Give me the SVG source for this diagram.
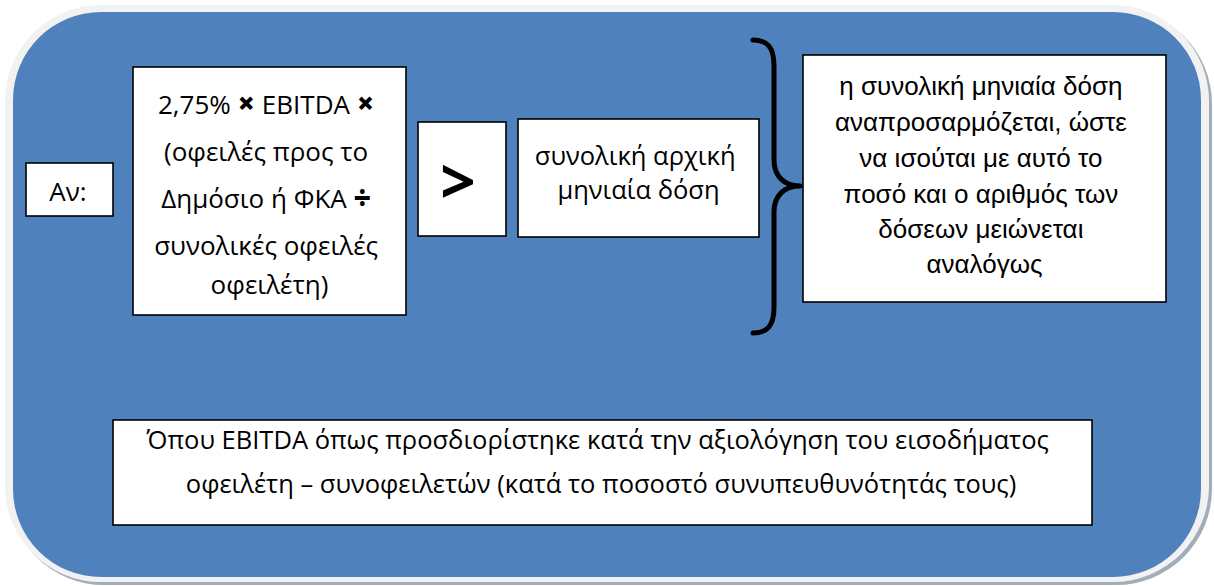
<svg xmlns="http://www.w3.org/2000/svg" width="1214" height="586" viewBox="0 0 1214 586">
<style>
.box{fill:#ffffff;stroke:#000000;stroke-width:1.6}
.cal{font-family:"Open Sans","Noto Sans","DejaVu Sans",sans-serif;fill:#000000;text-anchor:middle}
.ari{font-family:"Liberation Sans",Arial,sans-serif;fill:#000000;text-anchor:middle;font-size:26px}
.b{font-weight:700}
.op{font-weight:800;font-size:30px}
</style>
<g id="background">
<rect x="8" y="8" width="1204" height="577" rx="96" fill="#A3ACB9"/>
<rect x="5" y="5" width="1204" height="577" rx="96" fill="#F2F2F2"/>
<rect x="13" y="12" width="1188" height="565" rx="88" fill="#4F81BD"/>
</g>
<g id="node-if">
<rect class="box" x="26" y="163" width="87" height="53"/>
<text class="cal" x="68" y="201" font-size="26">Αν:</text>
</g>
<g id="node-formula">
<rect class="box" x="133" y="67" width="273" height="248"/>
<text class="cal" font-size="26">
<tspan x="269.5" y="114">2,75% <tspan class="op">×</tspan> EBITDA <tspan class="op">×</tspan></tspan>
<tspan x="269.5" y="161">(οφειλές προς το</tspan>
<tspan x="269.5" y="208">Δημόσιο ή ΦΚΑ <tspan class="op">÷</tspan></tspan>
<tspan x="269.5" y="255">συνολικές οφειλές</tspan>
<tspan x="269.5" y="294">οφειλέτη)</tspan>
</text>
</g>
<g id="node-gt">
<rect class="box" x="418" y="122" width="88" height="114"/>
<text class="cal b" x="458" y="204" font-size="62">&gt;</text>
</g>
<g id="node-initial">
<rect class="box" x="518" y="119" width="241" height="118"/>
<text class="cal" font-size="25.5">
<tspan x="638.5" y="165">συνολική αρχική</tspan>
<tspan x="638.5" y="199">μηνιαία δόση</tspan>
</text>
</g>
<g id="connectors">
<path d="M753,40 C768,40 774,48 774,66 L774,160 C774,177 785,186 800,186 C785,186 774,195 774,212 L774,307 C774,325 768,333 753,333" fill="none" stroke="#000000" stroke-width="5" stroke-linecap="round" stroke-linejoin="round"/>
</g>
<g id="node-result">
<rect class="box" x="803" y="55" width="363" height="247"/>
<text class="ari">
<tspan x="984.5" y="95">η συνολική μηνιαία δόση</tspan>
<tspan x="984.5" y="131">αναπροσαρμόζεται, ώστε</tspan>
<tspan x="984.5" y="167">να ισούται με αυτό το</tspan>
<tspan x="984.5" y="203">ποσό και ο αριθμός των</tspan>
<tspan x="984.5" y="238">δόσεων μειώνεται</tspan>
<tspan x="984.5" y="273">αναλόγως</tspan>
</text>
</g>
<g id="node-note">
<rect class="box" x="113" y="420" width="979" height="105" stroke-width="2"/>
<text class="cal" font-size="25.5">
<tspan x="601" y="449">Όπου EBITDA όπως προσδιορίστηκε κατά την αξιολόγηση του εισοδήματος</tspan>
<tspan x="601" y="493">οφειλέτη – συνοφειλετών (κατά το ποσοστό συνυπευθυνότητάς τους)</tspan>
</text>
</g>
</svg>
